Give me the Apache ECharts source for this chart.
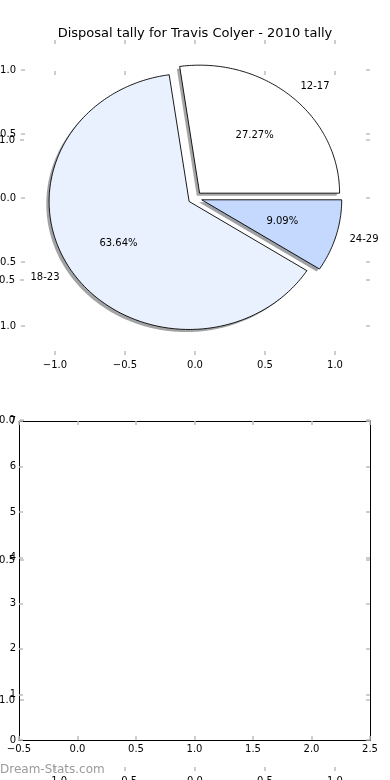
<!DOCTYPE html>
<html><head><meta charset="utf-8">
<script src="https://cdn.jsdelivr.net/npm/echarts@6/dist/echarts.min.js"></script>
<style>html,body{margin:0;padding:0;background:#fff}#c{width:390px;height:780px}</style>
</head><body><div id="c"></div>
<script>
// ---- data ----
const titleText = 'Disposal tally for Travis Colyer - 2010 tally';
const categories = ['12-17', '18-23', '24-29'];
const tally = [3, 7, 1];
const sliceColors = ['#ffffff', '#eaf1fe', '#c5d8fe'];
const pieTicks = [-1, -0.5, 0, 0.5, 1];
const barXTicks = [-0.5, 0, 0.5, 1, 1.5, 2, 2.5];
const barYTicks = [0, 1, 2, 3, 4, 5, 6, 7];
const watermark = 'Dream-Stats.com';

// ---- style constants ----
const FONT = 'DejaVu Sans';
const EXPLODE = 0.05, LABEL_DIST = 1.1, PCT_DIST = 0.6, SHADOW_D = -0.02;

function fmt1(v) { return (v < 0 ? '\u2212' : '') + Math.abs(v).toFixed(1); }
function fmtInt(v) { return String(Math.round(v)); }

const tick = { show: true, inside: true, length: 4, lineStyle: { color: '#bdbdbd', width: 1.5 } };
function lbl(show, margin, formatter) {
  return { show: show, margin: margin, fontSize: 10, color: '#000', fontFamily: FONT, formatter: formatter,
           showMinLabel: true, showMaxLabel: true, hideOverlap: false };
}
function vAxis(grid, pos, offset, min, max, interval, labelShow, margin, formatter, line) {
  return {
    type: 'value', gridIndex: grid, position: pos, offset: offset, min: min, max: max, interval: interval,
    axisLine: { show: !!line, onZero: false, lineStyle: { color: '#000', width: 1 } },
    axisTick: tick, axisLabel: lbl(labelShow, margin, formatter), splitLine: { show: false }
  };
}

const pMin = pieTicks[0], pMax = pieTicks[pieTicks.length - 1];
const bxMin = barXTicks[0], bxMax = barXTicks[barXTicks.length - 1];
const byMin = barYTicks[0], byMax = barYTicks[barYTicks.length - 1];

const total = tally.reduce((a, b) => a + b, 0);
function wedgeGeom(i) {
  let start = 0; for (let k = 0; k < i; k++) start += tally[k];
  const t1 = 360 * start / total, t2 = 360 * (start + tally[i]) / total;
  const mid = (t1 + t2) / 2 * Math.PI / 180;
  return { t1, t2, mid, cx: EXPLODE * Math.cos(mid), cy: EXPLODE * Math.sin(mid), frac: tally[i] / total };
}
function wedgePoints(api, g, dx, dy) {
  const pts = [api.coord([g.cx + dx, g.cy + dy])];
  const n = Math.max(4, Math.ceil(g.t2 - g.t1));
  for (let k = 0; k <= n; k++) {
    const a = (g.t1 + (g.t2 - g.t1) * k / n) * Math.PI / 180;
    pts.push(api.coord([g.cx + dx + Math.cos(a), g.cy + dy + Math.sin(a)]));
  }
  return pts;
}
function shadowColor(hex) {
  const r = parseInt(hex.slice(1, 3), 16), g = parseInt(hex.slice(3, 5), 16), b = parseInt(hex.slice(5, 7), 16);
  return 'rgba(' + Math.round(r * 0.3) + ',' + Math.round(g * 0.3) + ',' + Math.round(b * 0.3) + ',0.5)';
}

const pieData = categories.map((c, i) => [i, tally[i]]);
const gridBase = { outerBoundsMode: 'none', containLabel: false };

const option = {
  animation: false,
  backgroundColor: '#fff',
  title: { text: titleText, left: 'center', top: 22,
           textStyle: { fontSize: 13, fontWeight: 'normal', color: '#000', fontFamily: FONT } },
  grid: [
    Object.assign({ left: 55, right: 55, top: 70, bottom: 454 }, gridBase),   // pie axes
    Object.assign({ left: 55, right: 55, top: 140, bottom: 80 }, gridBase),   // overlapping empty axes
    Object.assign({ left: 19, right: 20, top: 421, bottom: 40 }, gridBase)    // bar axes
  ],
  xAxis: [
    vAxis(0, 'bottom', 29, pMin, pMax, 0.5, true, 5, fmt1, false),
    vAxis(0, 'top', 30, pMin, pMax, 0.5, false, 5, fmt1, false),
    vAxis(1, 'bottom', 71, pMin, pMax, 0.5, true, 5, fmt1, false),
    vAxis(1, 'top', 69, pMin, pMax, 0.5, false, 5, fmt1, false),
    vAxis(2, 'bottom', 0, bxMin, bxMax, 0.5, true, 4, fmt1, true),
    vAxis(2, 'top', 0, bxMin, bxMax, 0.5, false, 4, fmt1, true)
  ],
  yAxis: [
    vAxis(0, 'left', 34, pMin, pMax, 0.5, true, 5, fmt1, false),
    vAxis(0, 'right', 35, pMin, pMax, 0.5, false, 5, fmt1, false),
    vAxis(1, 'left', 35, pMin, pMax, 0.5, true, 5, fmt1, false),
    vAxis(1, 'right', 35, pMin, pMax, 0.5, false, 5, fmt1, false),
    vAxis(2, 'left', 0, byMin, byMax, 1, true, 3, fmtInt, true),
    vAxis(2, 'right', 0, byMin, byMax, 1, false, 3, fmtInt, true)
  ],
  graphic: [
    { type: 'text', left: 0, top: 764, z: 100,
      style: { text: watermark, fill: '#9b9b9b', font: '12px "DejaVu Sans"' } }
  ],
  series: [
    {
      type: 'custom', name: 'shadow', xAxisIndex: 0, yAxisIndex: 0, z: 1, clip: false,
      data: pieData,
      renderItem: function (params, api) {
        const i = params.dataIndex, g = wedgeGeom(i);
        return { type: 'polygon', shape: { points: wedgePoints(api, g, SHADOW_D, SHADOW_D) },
                 style: { fill: shadowColor(sliceColors[i]), stroke: null } };
      }
    },
    {
      type: 'custom', name: 'wedges', xAxisIndex: 0, yAxisIndex: 0, z: 2, clip: false,
      data: pieData,
      renderItem: function (params, api) {
        const i = params.dataIndex, g = wedgeGeom(i);
        const lx = g.cx + LABEL_DIST * Math.cos(g.mid), ly = g.cy + LABEL_DIST * Math.sin(g.mid);
        const px = g.cx + PCT_DIST * Math.cos(g.mid), py = g.cy + PCT_DIST * Math.sin(g.mid);
        const lp = api.coord([lx, ly]), pp = api.coord([px, py]);
        return {
          type: 'group',
          children: [
            { type: 'polygon', shape: { points: wedgePoints(api, g, 0, 0) },
              style: { fill: sliceColors[i], stroke: '#000', lineWidth: 0.9, lineJoin: 'miter' } },
            { type: 'text', x: lp[0], y: lp[1],
              style: { text: categories[i], fill: '#000', font: '10px "DejaVu Sans"',
                       align: lx > 0 ? 'left' : 'right', verticalAlign: 'middle' } },
            { type: 'text', x: pp[0], y: pp[1],
              style: { text: (g.frac * 100).toFixed(2) + '%', fill: '#000', font: '10px "DejaVu Sans"',
                       align: 'center', verticalAlign: 'middle' } }
          ]
        };
      }
    }
  ]
};

const chart = echarts.init(document.getElementById('c'), null, { renderer: 'canvas' });
chart.setOption(option);
</script>
</body></html>
